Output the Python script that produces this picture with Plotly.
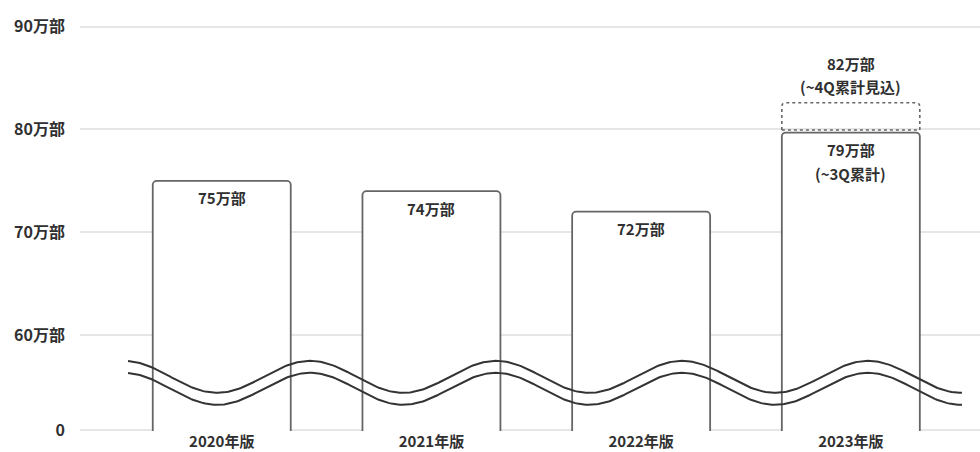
import numpy as np
import plotly.graph_objects as go

# ---- data ----
categories = ["2020年版", "2021年版", "2022年版", "2023年版"]
values = [75.0, 74.0, 72.0, 79.7]          # bar heights (万部)
bar_labels = [["75万部"], ["74万部"], ["72万部"], ["79万部", "(~3Q累計)"]]
forecast_low = 79.95                       # dashed box for 2023 (~4Q forecast)
forecast_high = 82.6
forecast_labels = ["82万部", "(~4Q累計見込)"]
y_tick_vals = [60, 70, 80, 90]
y_tick_text = ["60万部", "70万部", "80万部", "90万部"]
zero_pos = 50.76                           # broken-axis position of "0"

FONT = "Noto Sans CJK JP"
TXT = "#303030"
EDGE = "#666666"
GRID = "#e6e6e6"
BAR_W = 0.658
FS = 16

x = list(range(len(categories)))
base = zero_pos - 2.0

fig = go.Figure()

fig.add_trace(go.Bar(
    x=x, y=[v - base for v in values], base=base, width=BAR_W,
    marker=dict(color="white", line=dict(color=EDGE, width=1.8)),
    hoverinfo="skip", showlegend=False,
))

# axis-break wave (decorative)
wx = np.linspace(-0.447, 3.53, 400)
period = 0.887
phase = -0.022
centre, amp, gap = 55.93, 1.556, 1.167
for off in (0.0, gap):
    wy = centre - off - amp * np.cos(2 * np.pi * (wx - phase) / period)
    fig.add_trace(go.Scatter(x=wx, y=wy, mode="lines",
                             line=dict(color="#333333", width=2),
                             hoverinfo="skip", showlegend=False))

shapes = []
# baseline (dark), drawn below bars so it only shows in the gaps
shapes.append(dict(type="line", xref="paper", x0=0, x1=1, yref="y",
                   y0=zero_pos, y1=zero_pos, layer="below",
                   line=dict(color=EDGE, width=1.8)))
# dashed forecast box with rounded top corners
i3 = len(categories) - 1
rx, ry = 4 / 209.7, 4 / 10.28
x0, x1 = i3 - BAR_W / 2, i3 + BAR_W / 2
y0, y1 = forecast_low, forecast_high
path = (f"M {x0},{y0} L {x0},{y1-ry} Q {x0},{y1} {x0+rx},{y1} "
        f"L {x1-rx},{y1} Q {x1},{y1} {x1},{y1-ry} L {x1},{y0} Z")
shapes.append(dict(type="path", xref="x", yref="y", path=path,
                   line=dict(color=EDGE, width=1.6, dash="dot"),
                   fillcolor="rgba(0,0,0,0)"))

annotations = []
for i, lines in enumerate(bar_labels):
    for k, t in enumerate(lines):
        annotations.append(dict(x=i, y=values[i], text=t, showarrow=False,
                                xref="x", yref="y", yanchor="middle",
                                yshift=-(17 + 23.5 * k),
                                font=dict(family=FONT, size=FS - 1, color=TXT, weight="bold")))
for k, t in enumerate(forecast_labels):
    annotations.append(dict(x=i3, y=forecast_high, text=t, showarrow=False,
                            xref="x", yref="y", yanchor="middle",
                            yshift=16 + 23.5 * (len(forecast_labels) - 1 - k),
                            font=dict(family=FONT, size=FS - 1, color=TXT, weight="bold")))

fig.update_layout(
    width=980, height=452,
    margin=dict(l=80, r=0, t=0, b=21),
    plot_bgcolor="white", paper_bgcolor="white",
    shapes=shapes, annotations=annotations,
    barcornerradius=4,
    xaxis=dict(range=[-0.676, 3.616], tickvals=x, ticktext=categories,
               showgrid=False, zeroline=False, showline=False, ticks="",
               tickfont=dict(family=FONT, size=FS - 1, color=TXT, weight="bold"),
               fixedrange=True),
    yaxis=dict(range=[50.66, 92.6],
               tickvals=[zero_pos] + y_tick_vals, ticktext=["0"] + y_tick_text,
               showgrid=True, gridcolor=GRID, gridwidth=1.5,
               zeroline=False, showline=False, ticks="",
               ticklabelstandoff=14,
               tickfont=dict(family=FONT, size=FS, color=TXT, weight="bold"),
               fixedrange=True),
)

fig.write_html("out.html")
